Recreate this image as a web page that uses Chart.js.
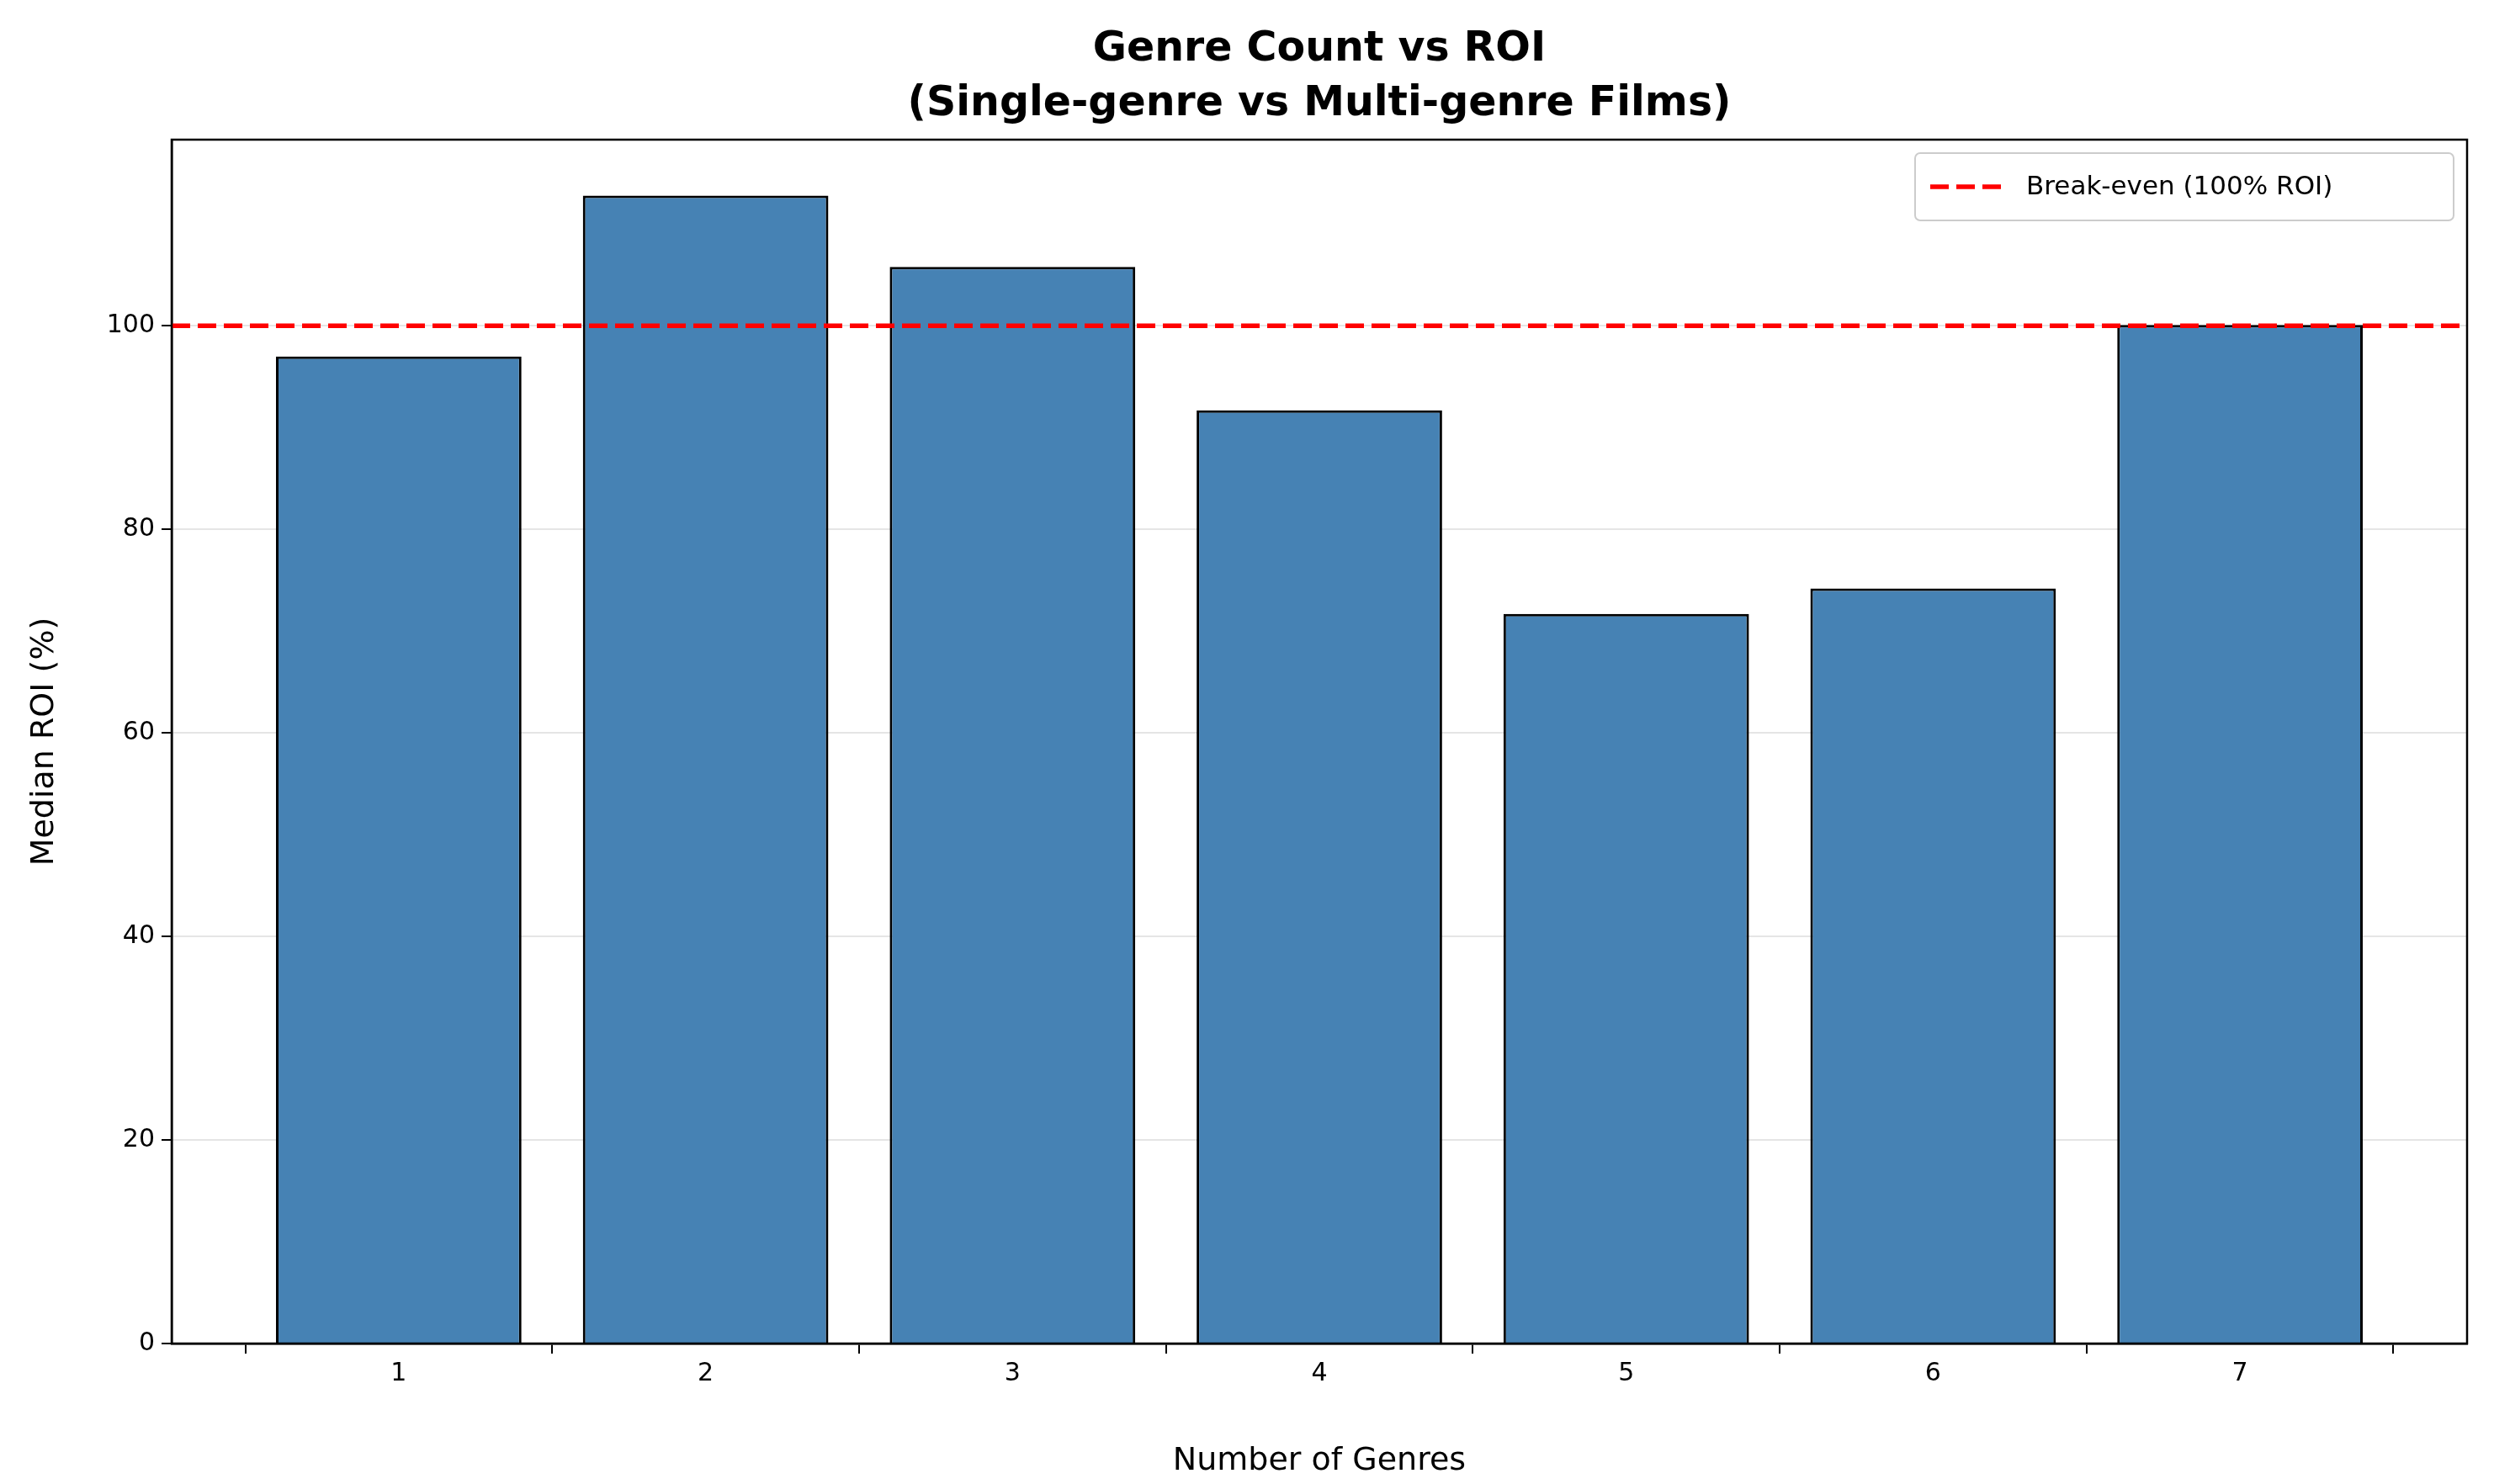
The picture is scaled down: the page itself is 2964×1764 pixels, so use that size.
<!DOCTYPE html>
<html>
<head>
<meta charset="utf-8">
<script src="https://cdn.jsdelivr.net/npm/chart.js@4/dist/chart.umd.min.js"></script>
<style>
  body { margin: 0; background: #fff; }
  #wrap { width: 2964px; height: 1764px; }
</style>
</head>
<body>
<div id="wrap"><canvas id="roi"></canvas></div>
<script>
const genreCounts = [1, 2, 3, 4, 5, 6, 7];
const medianRoi = [97.0, 112.8, 105.8, 91.7, 71.7, 74.2, 100.1];
const breakEven = 100;
const yTicks = [0, 20, 40, 60, 80, 100];
const xMin = 0.26, xMax = 7.74;

const FONT = "'DejaVu Sans', sans-serif";

// frame, title and legend box drawn over the chart
const extras = {
  id: "extras",
  afterDraw(chart) {
    const ctx = chart.ctx;
    const a = chart.chartArea;
    ctx.save();
    ctx.strokeStyle = "#000";
    ctx.lineWidth = 2.5;
    ctx.strokeRect(a.left, a.top, a.right - a.left, a.bottom - a.top);

    ctx.fillStyle = "#000";
    ctx.textAlign = "center";
    ctx.font = "bold 49px " + FONT;
    const cx = (a.left + a.right) / 2;
    ctx.fillText("Genre Count vs ROI", cx, 72);
    ctx.fillText("(Single-genre vs Multi-genre Films)", cx, 137);

    // legend
    const bw = 640, bh = 80;
    const bx = a.right - 16 - bw, by = a.top + 16;
    ctx.fillStyle = "rgba(255,255,255,0.8)";
    ctx.strokeStyle = "#ccc";
    ctx.lineWidth = 2;
    ctx.beginPath();
    ctx.roundRect(bx, by, bw, bh, 6);
    ctx.fill();
    ctx.stroke();
    ctx.strokeStyle = "red";
    ctx.lineWidth = 5.5;
    ctx.setLineDash([22, 9]);
    ctx.beginPath();
    ctx.moveTo(bx + 18, by + bh / 2);
    ctx.lineTo(bx + 106, by + bh / 2);
    ctx.stroke();
    ctx.setLineDash([]);
    ctx.fillStyle = "#000";
    ctx.textAlign = "left";
    ctx.textBaseline = "middle";
    ctx.font = "31px " + FONT;
    ctx.fillText("Break-even (100% ROI)", bx + 132, by + bh / 2 + 1);
    ctx.restore();
  },
};

new Chart(document.getElementById("roi"), {
  type: "bar",
  data: {
    datasets: [
      {
        type: "line",
        label: "Break-even (100% ROI)",
        data: [{ x: xMin, y: breakEven }, { x: xMax, y: breakEven }],
        borderColor: "red",
        borderWidth: 5.5,
        borderDash: [22, 9],
        pointRadius: 0,
        order: 0,
      },
      {
        label: "Median ROI",
        data: genreCounts.map((g, i) => ({ x: g, y: medianRoi[i] })),
        backgroundColor: "#4682B4",
        borderColor: "#000",
        borderWidth: 3,
        barPercentage: 0.8,
        categoryPercentage: 1,
        order: 1,
      },
    ],
  },
  options: {
    responsive: true,
    maintainAspectRatio: false,
    animation: false,
    layout: { padding: { top: 166, right: 32, left: 0, bottom: 0 } },
    plugins: { legend: { display: false }, title: { display: false }, tooltip: { enabled: false } },
    scales: {
      x: {
        type: "linear",
        offset: false,
        min: xMin,
        max: xMax,
        afterBuildTicks: (s) => { s.ticks = genreCounts.map((v) => ({ value: v })); },
        afterFit: (s) => { s.height = 167; },
        grid: { display: true, drawOnChartArea: false, drawTicks: true, tickLength: 12, color: "#000", lineWidth: 2 },
        border: { color: "#000", width: 2.5 },
        ticks: { color: "#000", font: { family: FONT, size: 30 }, padding: 6 },
        title: { display: true, text: "Number of Genres", color: "#000", font: { family: FONT, size: 38 }, padding: { top: 4 } },
      },
      y: {
        min: 0,
        max: 118.3,
        afterBuildTicks: (s) => { s.ticks = yTicks.map((v) => ({ value: v })); },
        afterFit: (s) => { s.width = 204; },
        grid: { color: "rgba(0,0,0,0.1)", lineWidth: 2, drawTicks: true, tickLength: 12, tickColor: "#000" },
        border: { color: "#000", width: 2.5 },
        ticks: { color: "#000", font: { family: FONT, size: 30 }, padding: 8 },
        title: { display: true, text: "Median ROI (%)", color: "#000", font: { family: FONT, size: 38 }, padding: { bottom: 0, top: 30 } },
      },
    },
  },
  plugins: [extras],
});
</script>
</body>
</html>
